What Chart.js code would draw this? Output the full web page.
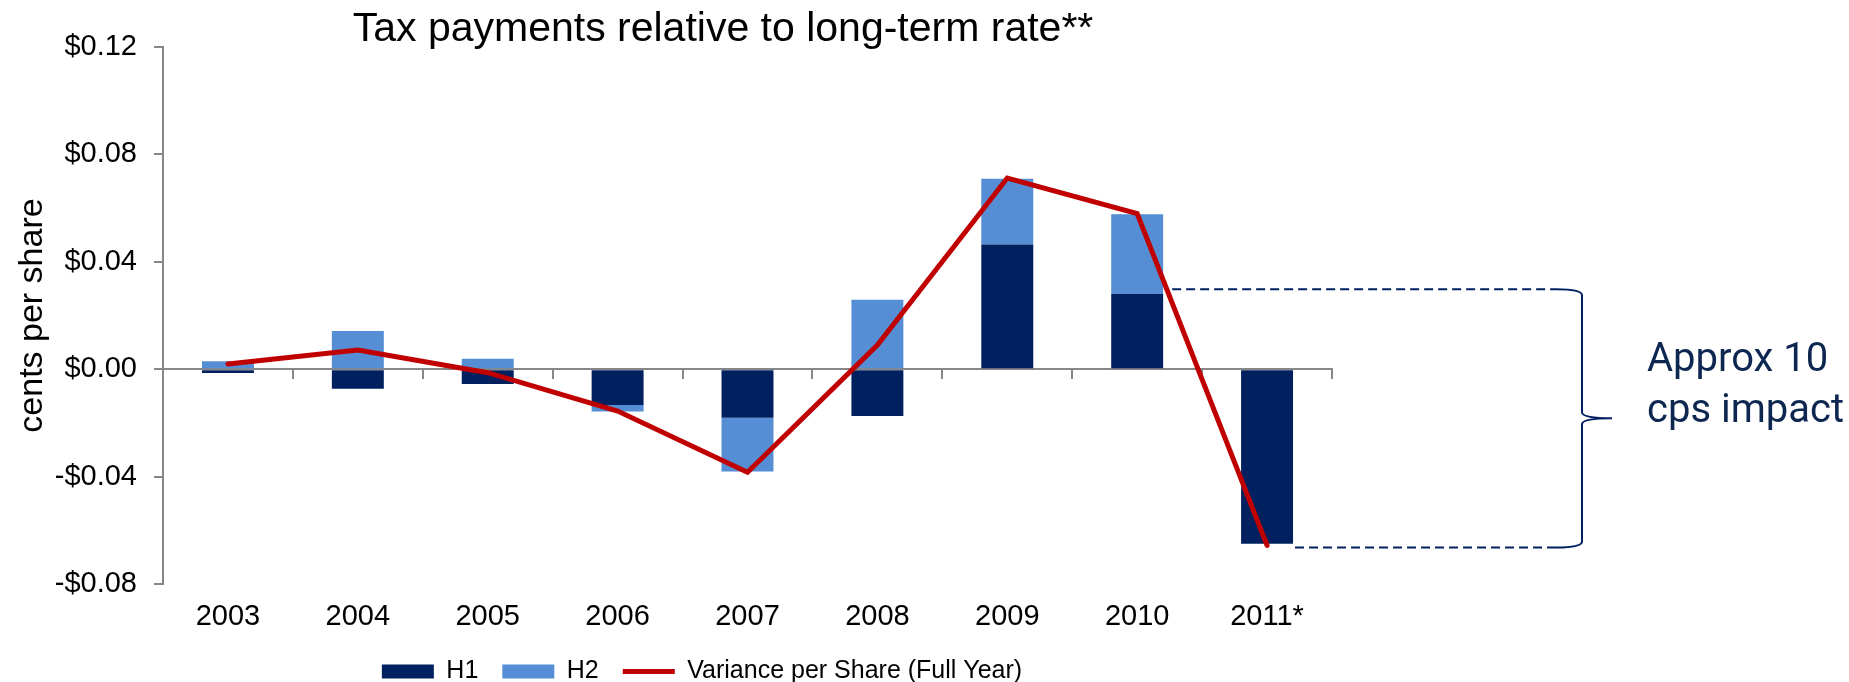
<!DOCTYPE html>
<html>
<head>
<meta charset="utf-8">
<title>Tax payments relative to long-term rate</title>
<script src="https://cdn.jsdelivr.net/npm/chart.js@4.4.1/dist/chart.umd.min.js"></script>
<style>
    body { margin: 0; background: #fff; }
    #wrap { width: 1849px; height: 682px; position: relative; }
</style>
</head>
<body>
<div id="wrap"><canvas id="taxChart"></canvas></div>
<script>
// categories on the x axis
const years = ['2003', '2004', '2005', '2006', '2007', '2008', '2009', '2010', '2011*'];

// half year variance, $ per share
const h1Values = [-0.0014, -0.0073, -0.0055, -0.0133, -0.0181, -0.0174, 0.0464, 0.0280, -0.0650];
const h2Values = [0.0030, 0.0142, 0.0039, -0.0025, -0.0200, 0.0259, 0.0245, 0.0297, 0];

// full year variance line
const fullYear = [0.0019, 0.0071, -0.0013, -0.0156, -0.0384, 0.0090, 0.0712, 0.0580, -0.0656];

// y axis tick values
const yTicks = [-0.08, -0.04, 0, 0.04, 0.08, 0.12];

// bracket for the 2010 -> 2011 swing
const impactTop = 0.0298;
const impactBottom = -0.0664;
const impactText = ['Approx 10', 'cps impact'];

const FONT = "'Liberation Sans', Arial, sans-serif";
const NAVY = '#002060';
const GREY = '#878787';
const BAR_PCT = 0.4;

// format ticks like $0.04 / -$0.04
function money(v) {
    if (Math.abs(v) < 1e-9) return '$0.00';
    return (v < 0 ? '-$' : '$') + Math.abs(v).toFixed(2);
}

// shift title and legend a bit to the right, like the original slide
const nudgePlugin = {
    id: 'nudge',
    afterLayout(chart) {
        chart.titleBlock.left += 57;
        chart.titleBlock.right += 57;
        chart.legend.left += 36;
        chart.legend.right += 36;
    }
};

// dashed guides + curly brace + label on the right
const impactPlugin = {
    id: 'impact',
    afterDraw(chart) {
        const ctx = chart.ctx;
        const x = chart.scales.x;
        const y = chart.scales.y;
        const step = x.getPixelForValue(1) - x.getPixelForValue(0);
        const half = step * BAR_PCT / 2;
        const yTop = y.getPixelForValue(impactTop);
        const yBot = y.getPixelForValue(impactBottom);
        const topStart = x.getPixelForValue(years.indexOf('2010')) + half + 9;
        const botStart = x.getPixelForValue(years.indexOf('2011*')) + half + 2;
        const braceX = x.right + 250;
        const mid = (yTop + yBot) / 2;

        ctx.save();
        ctx.strokeStyle = NAVY;
        ctx.lineWidth = 2;
        ctx.setLineDash([9, 5]);
        ctx.beginPath();
        ctx.moveTo(topStart, yTop);
        ctx.lineTo(braceX - 26, yTop);
        ctx.moveTo(botStart, yBot);
        ctx.lineTo(braceX - 26, yBot);
        ctx.stroke();

        ctx.setLineDash([]);
        ctx.beginPath();
        ctx.moveTo(braceX - 26, yTop);
        ctx.quadraticCurveTo(braceX, yTop, braceX, yTop + 6);
        ctx.lineTo(braceX, mid - 6);
        ctx.quadraticCurveTo(braceX, mid, braceX + 30, mid);
        ctx.quadraticCurveTo(braceX, mid, braceX, mid + 6);
        ctx.lineTo(braceX, yBot - 6);
        ctx.quadraticCurveTo(braceX, yBot, braceX - 26, yBot);
        ctx.stroke();

        ctx.fillStyle = '#0E2750';
        ctx.font = "40px Roboto, 'Liberation Sans', sans-serif";
        ctx.textAlign = 'left';
        ctx.textBaseline = 'alphabetic';
        ctx.fillText(impactText[0], braceX + 65, mid - 47);
        ctx.fillText(impactText[1], braceX + 65, mid + 4);
        ctx.restore();
    }
};

const ctx = document.getElementById('taxChart').getContext('2d');

new Chart(ctx, {
    type: 'bar',
    data: {
        labels: years,
        datasets: [
            {
                label: 'H1',
                data: h1Values,
                backgroundColor: NAVY,
                barPercentage: BAR_PCT,
                categoryPercentage: 1,
                stack: 'halves',
                order: 0
            },
            {
                label: 'H2',
                data: h2Values,
                backgroundColor: '#558ED5',
                barPercentage: BAR_PCT,
                categoryPercentage: 1,
                stack: 'halves',
                order: 0
            },
            {
                type: 'line',
                label: 'Variance per Share (Full Year)',
                data: fullYear,
                borderColor: '#C00000',
                backgroundColor: '#C00000',
                borderWidth: 5,
                borderCapStyle: 'round',
                pointRadius: 0,
                tension: 0,
                fill: false,
                stack: 'line',
                order: -1
            }
        ]
    },
    options: {
        responsive: true,
        maintainAspectRatio: false,
        animation: false,
        layout: {
            padding: { left: 0, right: 517, top: 0, bottom: -12 }
        },
        plugins: {
            tooltip: { enabled: false },
            title: {
                display: true,
                text: 'Tax payments relative to long-term rate**',
                color: '#000',
                font: { family: FONT, size: 41, weight: 'normal', lineHeight: 1 },
                padding: { top: 9, bottom: -3 }
            },
            legend: {
                position: 'bottom',
                labels: {
                    usePointStyle: true,
                    pointStyleWidth: 52,
                    boxHeight: 14,
                    padding: 24,
                    color: '#000',
                    font: { family: FONT, size: 25 },
                    generateLabels(chart) {
                        const items = Chart.defaults.plugins.legend.labels.generateLabels(chart);
                        items.forEach(item => {
                            const ds = chart.data.datasets[item.datasetIndex];
                            item.pointStyle = ds.type === 'line' ? 'line' : 'rect';
                        });
                        return items.sort((a, b) => a.datasetIndex - b.datasetIndex);
                    }
                }
            }
        },
        scales: {
            x: {
                stacked: true,
                offset: true,
                position: { y: 0 },
                afterFit: scale => {
                    scale.height = 0;
                },
                ticks: { display: false },
                border: { color: GREY, width: 2 },
                grid: {
                    offset: true,
                    drawOnChartArea: false,
                    drawTicks: true,
                    tickLength: 9,
                    color: GREY,
                    lineWidth: 2
                }
            },
            xLabels: {
                type: 'category',
                labels: years,
                position: 'bottom',
                offset: true,
                afterFit: scale => {
                    scale.height = 51;
                },
                border: { display: false },
                grid: { display: false, drawTicks: false },
                ticks: {
                    color: '#000',
                    padding: 16,
                    font: { family: FONT, size: 29 }
                }
            },
            y: {
                stacked: true,
                min: yTicks[0],
                max: yTicks[yTicks.length - 1],
                afterBuildTicks: scale => {
                    scale.ticks = yTicks.map(v => ({ value: v }));
                },
                afterFit: scale => {
                    scale.width = 163;
                },
                border: { color: GREY, width: 2 },
                grid: {
                    drawOnChartArea: false,
                    drawTicks: true,
                    tickLength: 9,
                    color: GREY,
                    lineWidth: 2
                },
                ticks: {
                    color: '#000',
                    padding: 17,
                    font: { family: FONT, size: 29 },
                    callback: v => money(v)
                },
                title: {
                    display: true,
                    text: 'cents per share',
                    color: '#000',
                    font: { family: FONT, size: 34 },
                    padding: { top: 12, bottom: 4 }
                }
            }
        }
    },
    plugins: [nudgePlugin, impactPlugin]
});
</script>
</body>
</html>
